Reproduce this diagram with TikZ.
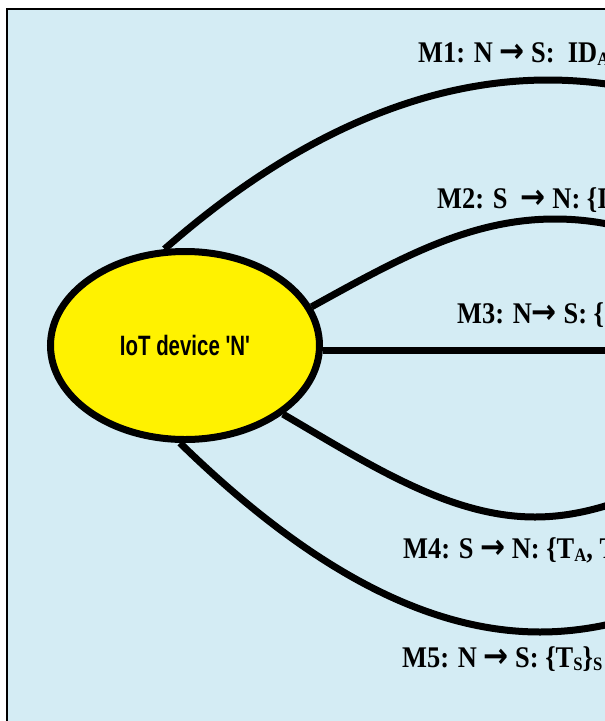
\documentclass[tikz,border=0pt]{standalone}
\usepackage{graphicx}
\usepackage{fontspec}
\setmainfont{Liberation Serif}
\newfontfamily\arrowfont{DejaVu Sans}
\newfontfamily\devsans{Liberation Sans}
\usetikzlibrary{shapes.geometric}
\definecolor{bgblue}{RGB}{212,236,244}
\definecolor{devyellow}{RGB}{255,242,0}
\newcommand{\rarr}{{\arrowfont\bfseries\fontsize{34}{30}\selectfont →}}
\newcommand{\msub}[1]{\raisebox{-0.12em}{\fontsize{19}{19}\selectfont #1}}
\newcommand{\msgtext}[1]{\scalebox{0.88}[1]{#1}}
\tikzset{
  frame/.style={line width=2.5pt, draw=black, fill=bgblue},
  device/.style={ellipse, draw=black, line width=7pt, fill=devyellow,
    minimum width=269pt, minimum height=188pt, inner sep=0pt,
    font=\devsans\bfseries\fontsize{28}{28}\selectfont},
  conn/.style={line width=7pt, draw=black},
  msglabel/.style={anchor=base west, inner sep=0pt,
    font=\bfseries\fontsize{30}{30}\selectfont}
}
\begin{document}
\begin{tikzpicture}[x=1pt,y=-1pt]
  \useasboundingbox (0,0) rectangle (605,721);
  \clip (0,0) rectangle (605,721);
  \fill[white] (0,0) rectangle (605,721);
  \draw[frame] (7,9) rectangle (720,820);

  \node[device] (N) at (185,345.5) {\scalebox{0.73}[1]{IoT device 'N'}};

  % off-picture ends of the connectors
  \coordinate (S1) at (933,247);
  \coordinate (S2) at (798,305);
  \coordinate (S3) at (800,350);
  \coordinate (S4) at (787,413);
  \coordinate (S5) at (900,443);

  \draw[conn] (N.102) .. controls (300,130) and (430,80) .. (548,80)
              .. controls (666,80) and (796,130) .. (S1);
  \draw[conn] (N.17) .. controls (400,258) and (470,219) .. (555,219)
              .. controls (640,219) and (710,258) .. (S2);
  \draw[conn] (N.east |- S3) -- (S3);
  \draw[conn] (N.-35) .. controls (370,465) and (450,517) .. (535,517)
              .. controls (620,517) and (700,465) .. (S4);
  \draw[conn] (N.-93) .. controls (300,560) and (420,632) .. (540,632)
              .. controls (660,632) and (780,560) .. (S5);

  \node[msglabel] (m1) at (418,62) {\msgtext{M1: N \rarr{} S:\ \ ID\msub{A}}};
  \node[msglabel] (m2) at (437,208) {\msgtext{M2: S \ \rarr{} N: \{I}};
  \node[msglabel] (m3) at (457,323) {\msgtext{M3: N\rarr{} S: \{}};
  \node[msglabel] (m4) at (403,558) {\msgtext{M4: S \rarr{} N: \{T\msub{A}, T}};
  \node[msglabel] (m5) at (402,667) {\msgtext{M5: N \rarr{} S: \{T\msub{S}\}\msub{S}}};
\end{tikzpicture}
\end{document}
